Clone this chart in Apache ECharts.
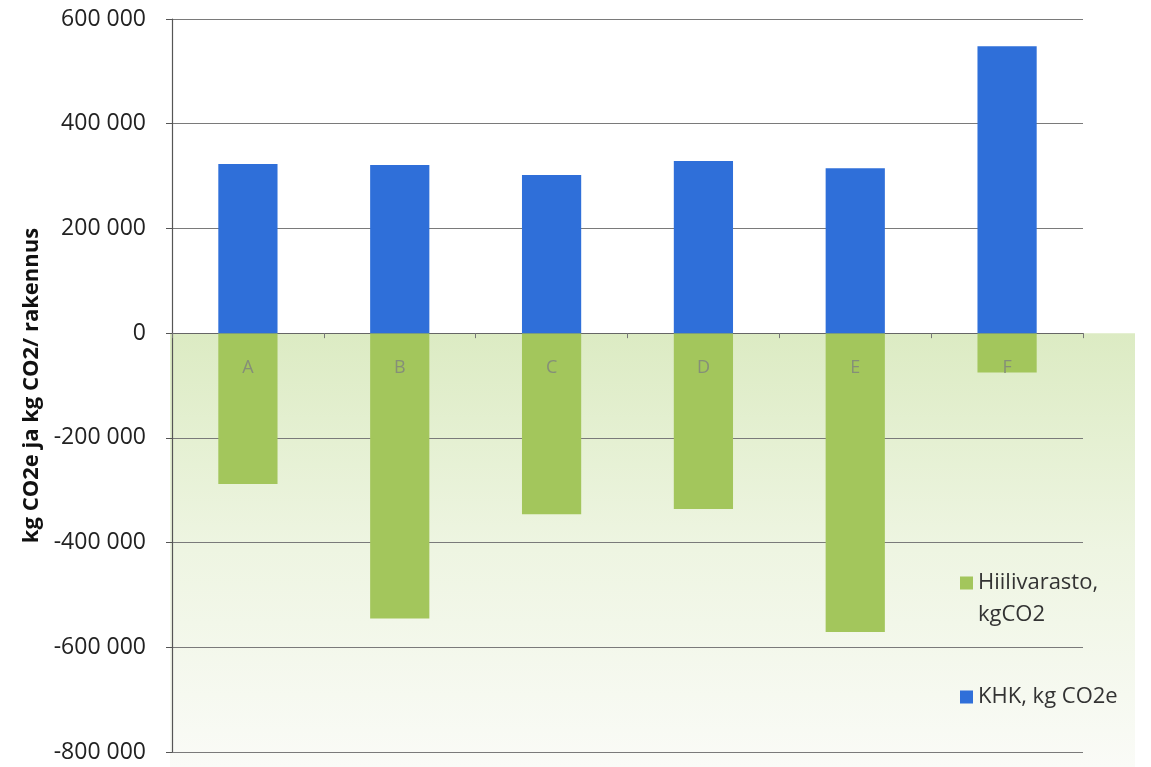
<!DOCTYPE html>
<html>
<head>
<meta charset="utf-8">
<script src="https://cdn.jsdelivr.net/npm/echarts@6/dist/echarts.min.js"></script>
<style>
html,body{margin:0;padding:0;background:#fff;}
#c{width:1151px;height:767px;}
</style>
</head>
<body>
<div id="c"></div>
<script>
const categories = ['A', 'B', 'C', 'D', 'E', 'F'];
const khk = [323000, 321000, 302000, 329000, 315000, 548000];
const hiili = [-288000, -545000, -346000, -336000, -571000, -75000];
const seriesNames = ['Hiilivarasto,\nkgCO2', 'KHK, kg CO2e'];
const yTicks = { min: -800000, max: 600000, interval: 200000 };
const yAxisTitle = 'kg CO2e ja kg CO2/ rakennus';

const chart = echarts.init(document.getElementById('c'), null, { renderer: 'canvas' });
const font = '"Open Sans", "Liberation Sans", sans-serif';

// legend icons: square placed at a chosen height inside a 13x64 box
const iconTop = 'path://M0,0L0.01,0L0.01,0.01Z M0,9.5L13,9.5L13,22.5L0,22.5Z M0,64L0.01,64L0.01,63.99Z';
const iconMid = 'path://M0,0L0.01,0L0.01,0.01Z M0,25.5L13,25.5L13,38.5L0,38.5Z M0,64L0.01,64L0.01,63.99Z';

const option = {
  animation: false,
  backgroundColor: '#ffffff',
  grid: { left: 172, right: 68, top: 19, bottom: 15, containLabel: false, outerBoundsMode: 'none' },
  legend: {
    orient: 'vertical',
    left: 960,
    top: 567,
    padding: 0,
    itemGap: 34,
    itemWidth: 13,
    itemHeight: 64,
    data: [
      { name: seriesNames[0], icon: iconTop },
      { name: seriesNames[1], icon: iconMid }
    ],
    textStyle: { fontFamily: font, fontSize: 22, color: '#333', lineHeight: 32 }
  },
  xAxis: {
    type: 'category',
    data: categories,
    axisLine: { onZero: true, lineStyle: { color: '#666', width: 1.2 } },
    axisTick: { show: true, length: 5, alignWithLabel: false, lineStyle: { color: '#777' } },
    axisLabel: { show: false },
    splitLine: { show: false }
  },
  yAxis: {
    type: 'value',
    min: yTicks.min,
    max: yTicks.max,
    interval: yTicks.interval,
    name: yAxisTitle,
    nameLocation: 'middle',
    nameGap: 128,
    nameTextStyle: { fontFamily: font, fontSize: 22, fontWeight: 'bold', color: '#111' },
    axisLine: { show: true, lineStyle: { color: '#555', width: 1.2 } },
    axisTick: { show: true, length: 6, inside: false, lineStyle: { color: '#555' } },
    axisLabel: {
      margin: 26,
      fontFamily: font,
      fontSize: 23,
      color: '#222',
      formatter: v => String(v).replace(/\B(?=(\d{3})+(?!\d))/g, ' ')
    },
    splitLine: { show: true, lineStyle: { color: '#7a7a7a', width: 1.2 } }
  },
  series: [
    {
      name: seriesNames[0],
      type: 'bar',
      stack: 'total',
      data: hiili,
      barWidth: '39%',
      itemStyle: { color: '#a3c65c' },
      z: 3
    },
    {
      name: seriesNames[1],
      type: 'bar',
      stack: 'total',
      data: khk,
      barWidth: '39%',
      itemStyle: { color: '#2f6fd9' },
      label: {
        show: true,
        position: 'bottom',
        distance: 26,
        formatter: '{b}',
        fontFamily: font,
        fontSize: 18,
        color: '#858f78'
      },
      z: 4
    }
  ]
};
chart.setOption(option);

const zeroY = chart.convertToPixel({ yAxisIndex: 0 }, 0);
chart.setOption({
  graphic: [{
    type: 'rect',
    z: -10,
    silent: true,
    shape: { x: 170, y: zeroY, width: 1135 - 170, height: 767 - zeroY },
    style: {
      fill: new echarts.graphic.LinearGradient(0, 0, 0, 1, [
        { offset: 0, color: '#dcebc3' },
        { offset: 0.5, color: '#eef5e2' },
        { offset: 1, color: '#fafbf7' }
      ])
    }
  }]
});
</script>
</body>
</html>
